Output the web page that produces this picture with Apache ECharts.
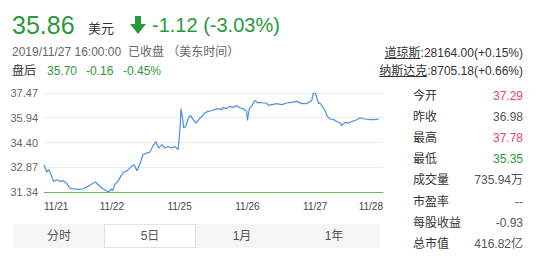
<!DOCTYPE html>
<html lang="zh">
<head>
<meta charset="UTF-8">
<title>5日走势</title>
<script src="https://cdn.jsdelivr.net/npm/echarts@6/dist/echarts.min.js"></script>
<style>
    body { margin: 0; background: #fff; font-family: Arial, "Liberation Sans", "Noto Sans CJK SC", sans-serif; }
    #wrap { position: relative; width: 554px; height: 260px; overflow: hidden; }
    #main { position: absolute; left: 0; top: 0; width: 554px; height: 260px; }
    .t { position: absolute; white-space: nowrap; font-size: 12px; line-height: 14px; }
    .green { color: #279a3b; }
    .red { color: #e24a5b; }
    .gray { color: #666; }
    .dark { color: #333; }
    .row { position: absolute; left: 413px; width: 110px; font-size: 12px; line-height: 14px; color: #333; }
    .row span { float: right; color: #555; }
    .tabs { position: absolute; left: 13px; top: 224px; width: 367px; height: 24px; background: #f5f5f5; }
    .tab { position: absolute; top: 0; width: 92px; height: 24px; line-height: 24px; text-align: center; font-size: 12px; color: #555; box-sizing: border-box; }
    .tab.on { background: #fff; border: 1px solid #e2e2e2; line-height: 22px; }
    u { text-decoration: underline; }
</style>
</head>
<body>
<div id="wrap">
    <div id="main"></div>

    <!-- 头部报价 -->
    <div class="t green" style="left:12px;top:11px;font-size:25px;line-height:28px;">35.86</div>
    <div class="t dark" style="left:88px;top:22px;font-size:13px;">美元</div>
    <svg style="position:absolute;left:130px;top:16px" width="16" height="18" viewBox="0 0 16 18">
        <rect x="5" y="0" width="6" height="9" fill="#279a3b"></rect>
        <polygon points="0,8 16,8 8,18" fill="#279a3b"></polygon>
    </svg>
    <div class="t green" style="left:152px;top:13px;font-size:20px;line-height:24px;">-1.12 (-3.03%)</div>

    <div class="t gray" style="left:12px;top:45px;">2019/11/27 16:00:00 &nbsp;已收盘 （美东时间）</div>
    <div class="t dark" style="left:12px;top:64px;">盘后</div>
    <div class="t green" style="left:47px;top:64px;">35.70</div>
    <div class="t green" style="left:86px;top:64px;">-0.16</div>
    <div class="t green" style="left:123px;top:64px;">-0.45%</div>

    <!-- 指数 -->
    <div class="t dark" style="right:31px;top:46px;"><u>道琼斯</u>:28164.00(+0.15%)</div>
    <div class="t dark" style="right:31px;top:64px;"><u>纳斯达克</u>:8705.18(+0.66%)</div>

    <!-- 右侧行情 -->
    <div id="stats"></div>

    <!-- 周期切换 -->
    <div class="tabs">
        <div class="tab" style="left:0">分时</div>
        <div class="tab on" style="left:91px">5日</div>
        <div class="tab" style="left:183px">1月</div>
        <div class="tab" style="left:275px">1年</div>
    </div>
</div>

<script type="text/javascript">
    // x轴刻度（交易日分界）
    var dayLabels = ['11/21', '11/22', '11/25', '11/26', '11/27', '11/28'];
    // y轴刻度
    var yTicks = [31.34, 32.87, 34.40, 35.94, 37.47];
    // 时间（以交易日为单位，0 = 11/21开盘）
    var times = [
        0.00, 0.04, 0.07, 0.10, 0.14, 0.19, 0.24, 0.28, 0.33, 0.38, 0.43, 0.51, 0.58, 0.65, 0.73, 0.76, 0.80, 0.85, 0.90, 0.95,
        0.99, 1.01, 1.05, 1.09, 1.14, 1.18, 1.23, 1.29, 1.33, 1.37, 1.42, 1.46, 1.51, 1.56, 1.61, 1.65, 1.69, 1.74, 1.78, 1.83,
        1.88, 1.93, 1.98, 2.01, 2.02, 2.05, 2.06, 2.09, 2.13, 2.16, 2.20, 2.24, 2.28, 2.33, 2.37, 2.42, 2.47, 2.52, 2.57, 2.62,
        2.64, 2.69, 2.74, 2.79, 2.84, 2.89, 2.94, 2.99, 3.00, 3.03, 3.06, 3.11, 3.16, 3.18, 3.23, 3.28, 3.31, 3.36, 3.43, 3.51,
        3.58, 3.65, 3.73, 3.80, 3.87, 3.95, 3.97, 4.00, 4.02, 4.05, 4.07, 4.10, 4.13, 4.15, 4.18, 4.22, 4.27, 4.32, 4.37, 4.39,
        4.44, 4.49, 4.54, 4.59, 4.66, 4.73, 4.81, 4.88, 4.94
    ];
    // 价格
    var prices = [
        33.03, 32.58, 32.72, 32.45, 32.00, 32.10, 32.00, 32.04, 31.90, 31.59, 31.53, 31.50, 31.54, 31.69, 31.90, 31.96, 31.79, 31.59, 31.46, 31.34,
        31.54, 31.42, 31.84, 32.00, 32.37, 32.58, 32.66, 32.93, 33.03, 32.66, 33.14, 33.65, 33.75, 33.80, 34.20, 34.47, 34.06, 34.27, 34.06, 34.16,
        34.06, 34.16, 33.96, 35.51, 36.50, 35.71, 35.30, 35.40, 35.92, 36.08, 35.82, 35.61, 35.82, 36.02, 36.23, 36.33, 36.37, 36.44, 36.50, 36.44,
        36.58, 36.50, 36.64, 36.58, 36.70, 36.54, 36.50, 36.33, 35.77, 36.54, 36.64, 37.01, 36.85, 36.89, 36.85, 36.85, 36.70, 36.75, 36.81, 36.75,
        36.85, 36.89, 36.95, 36.81, 36.81, 37.01, 37.43, 37.47, 37.22, 36.81, 36.85, 36.68, 36.48, 36.33, 36.02, 35.86, 35.82, 35.71, 35.61, 35.45,
        35.65, 35.61, 35.71, 35.77, 35.92, 35.86, 35.82, 35.82, 35.86
    ];
    // 右侧行情
    var statNames = ['今开', '昨收', '最高', '最低', '成交量', '市盈率', '每股收益', '总市值'];
    var statValues = ['37.29', '36.98', '37.78', '35.35', '735.94万', '--', '-0.93', '416.82亿'];
    var statColors = ['#e24a5b', '', '#e24a5b', '#279a3b', '', '', '', ''];

    var html = '';
    for (var i = 0; i < statNames.length; i++) {
        var rowTop = 89 + i * 21.1;
        var c = statColors[i] ? ' style="color:' + statColors[i] + '"' : '';
        html += '<div class="row" style="top:' + rowTop + 'px">' + statNames[i] + '<span' + c + '>' + statValues[i] + '</span></div>';
    }
    document.getElementById('stats').innerHTML = html;

    var myChart = echarts.init(document.getElementById('main'), null, { renderer: 'svg' });
    var yMin = yTicks[0], yMax = yTicks[yTicks.length - 1];
    myChart.setOption({
        animation: false,
        grid: { left: 44, top: 93, width: 339, height: 99 },
        xAxis: {
            type: 'value',
            min: 0,
            max: dayLabels.length - 1,
            interval: 1,
            splitLine: { show: false },
            axisLine: { lineStyle: { color: '#6cbf55', width: 1 } },
            axisTick: { show: false },
            axisLabel: {
                margin: 9,
                fontSize: 10,
                color: '#444',
                alignMinLabel: 'left',
                alignMaxLabel: 'right',
                formatter: function (v) { return dayLabels[Math.round(v)]; }
            }
        },
        yAxis: {
            type: 'value',
            min: yMin,
            max: yMax,
            interval: (yMax - yMin) / (yTicks.length - 1),
            axisLine: { show: false },
            axisTick: { show: false },
            splitLine: { lineStyle: { color: '#ececec' } },
            axisLabel: {
                margin: 6,
                fontSize: 11,
                color: '#666',
                formatter: function (v) {
                    var best = yTicks[0];
                    yTicks.forEach(function (t) { if (Math.abs(t - v) < Math.abs(best - v)) best = t; });
                    return best.toFixed(2);
                }
            }
        },
        series: [{
            type: 'line',
            symbol: 'none',
            data: times.map(function (t, i) { return [t, prices[i]]; }),
            lineStyle: { color: '#4a8fe2', width: 1.2 }
        }]
    });
</script>
</body>
</html>
